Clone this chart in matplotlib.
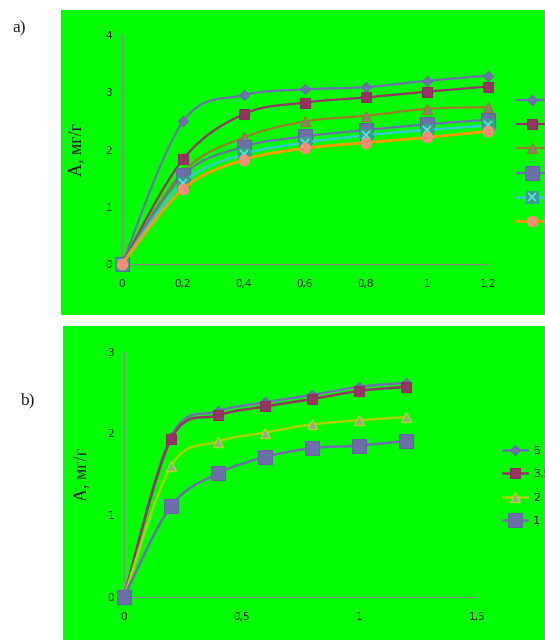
import numpy as np
import matplotlib
matplotlib.use("Agg")
import matplotlib.pyplot as plt
from matplotlib.path import Path
from matplotlib.patches import PathPatch, Rectangle
from matplotlib.lines import Line2D
from matplotlib.legend_handler import HandlerTuple

# ---------------- data ----------------
x_top = [0, 0.2, 0.4, 0.6, 0.8, 1.0, 1.2]
top_s1 = [0, 2.49, 2.95, 3.05, 3.09, 3.20, 3.29]
top_s2 = [0, 1.83, 2.62, 2.82, 2.91, 3.01, 3.10]
top_s3 = [0, 1.61, 2.21, 2.49, 2.59, 2.71, 2.74]
top_s4 = [0, 1.55, 2.05, 2.23, 2.34, 2.44, 2.52]
top_s5 = [0, 1.42, 1.92, 2.12, 2.25, 2.34, 2.42]
top_s6 = [0, 1.31, 1.82, 2.02, 2.12, 2.21, 2.32]
top_labels = ["6", "5", "4", "3", "2", "1"]

x_bot = [0, 0.2, 0.4, 0.6, 0.8, 1.0, 1.2]
bot_5 = [0, 1.96, 2.27, 2.38, 2.47, 2.57, 2.62]
bot_35 = [0, 1.93, 2.22, 2.33, 2.42, 2.52, 2.57]
bot_2 = [0, 1.60, 1.90, 2.01, 2.11, 2.16, 2.20]
bot_1 = [0, 1.11, 1.51, 1.71, 1.82, 1.85, 1.91]
bot_labels = ["5", "3,5", "2", "1"]

top_xticks = [0, 0.2, 0.4, 0.6, 0.8, 1.0, 1.2]
top_xticklabels = ["0", "0,2", "0,4", "0,6", "0,8", "1", "1,2"]
top_yticks = [0, 1, 2, 3, 4]
bot_xticks = [0, 0.5, 1.0, 1.5]
bot_xticklabels = ["0", "0,5", "1", "1,5"]
bot_yticks = [0, 1, 2, 3]
ylabel = "А, мг/г"

# ---------------- helpers ----------------
GREEN = "#00FF00"
AXC = "#8A8A8A"
TXT = "#1A1A1A"


def smooth_path(x, y):
    pts = np.column_stack([x, y]).astype(float)
    n = len(pts)
    verts = [pts[0]]
    codes = [Path.MOVETO]
    for i in range(n - 1):
        p0 = pts[max(i - 1, 0)]
        p1 = pts[i]
        p2 = pts[i + 1]
        p3 = pts[min(i + 2, n - 1)]
        c1 = p1 + (p2 - p0) / 6.0
        c2 = p2 - (p3 - p1) / 6.0
        verts += [c1, c2, p2]
        codes += [Path.CURVE4] * 3
    return Path(verts, codes)


def draw_series(ax, x, y, lc, lw, mk, z, cross=None):
    ax.add_patch(PathPatch(smooth_path(x, y), fill=False, edgecolor=lc,
                           linewidth=lw, zorder=z, clip_on=False,
                           capstyle="round", joinstyle="round"))
    ax.plot(x, y, linestyle="none", zorder=z + 0.5, clip_on=False, **mk)
    h = Line2D([], [], color=lc, linewidth=lw, **mk)
    if cross is not None:
        ax.plot(x, y, linestyle="none", zorder=z + 0.6, clip_on=False, **cross)
        h2 = Line2D([], [], linestyle="none", **cross)
        return (h, h2)
    return h


def style_axes(ax, xlim, ylim, xticks, xticklabels, yticks):
    ax.set_facecolor("none")
    ax.set_xlim(*xlim)
    ax.set_ylim(*ylim)
    for s in ["top", "right"]:
        ax.spines[s].set_visible(False)
    for s in ["left", "bottom"]:
        ax.spines[s].set_color(AXC)
        ax.spines[s].set_linewidth(0.9)
    ax.set_xticks(xticks)
    ax.set_xticklabels(xticklabels)
    ax.set_yticks(yticks)
    ax.set_yticklabels([str(v) for v in yticks])
    ax.tick_params(axis="both", length=0, labelsize=7.5, colors=TXT)
    ax.tick_params(axis="x", pad=11)
    ax.tick_params(axis="y", pad=7)
    ax.set_ylabel(ylabel, family="Liberation Serif", fontsize=13, color=TXT)


fig = plt.figure(figsize=(5.45, 6.4), dpi=100)
fig.patch.set_facecolor("white")

fig.add_artist(Rectangle((61 / 545, 1 - 315 / 640), 484 / 545, 305 / 640,
                         transform=fig.transFigure, facecolor=GREEN,
                         edgecolor="none", zorder=-10))
fig.add_artist(Rectangle((63 / 545, 0), 482 / 545, 314 / 640,
                         transform=fig.transFigure, facecolor=GREEN,
                         edgecolor="none", zorder=-10))

# ---------------- top panel ----------------
ax1 = fig.add_axes([122 / 545, 1 - 264 / 640, 366 / 545, 229 / 640])
style_axes(ax1, (0, 1.2), (0, 4), top_xticks, top_xticklabels, top_yticks)
ax1.yaxis.set_label_coords(-0.101, 0.5)

h = []
h.append(draw_series(ax1, x_top, top_s1, "#7070AE", 1.6,
                     dict(marker="D", markersize=5.5, markerfacecolor="#7070AE",
                          markeredgecolor="#6A6AA6", markeredgewidth=0.8), 3))
h.append(draw_series(ax1, x_top, top_s2, "#993366", 1.6,
                     dict(marker="s", markersize=6.5, markerfacecolor="#993366",
                          markeredgecolor="#8E3060", markeredgewidth=0.8), 4))
h.append(draw_series(ax1, x_top, top_s3, "#9C7C2A", 1.6,
                     dict(marker="^", markersize=7.5, markerfacecolor="#84847A",
                          markeredgecolor="#9C7C2A", markeredgewidth=1.0), 5))
h.append(draw_series(ax1, x_top, top_s4, "#6E6EAA", 1.6,
                     dict(marker="s", markersize=9.5, markerfacecolor="#6E6EAA",
                          markeredgecolor="#6464A0", markeredgewidth=0.8), 6))
h.append(draw_series(ax1, x_top, top_s5, "#33CCCC", 1.8,
                     dict(marker="s", markersize=8, markerfacecolor="#3A9E90",
                          markeredgecolor="#3A9E90", markeredgewidth=0.8), 7,
                     cross=dict(marker="x", markersize=5.5, markeredgecolor="#66E0E0",
                                markeredgewidth=1.2)))
h.append(draw_series(ax1, x_top, top_s6, "#FF9900", 2.0,
                     dict(marker="o", markersize=7.5, markerfacecolor="#FF8A78",
                          markeredgecolor="#FF8A78", markeredgewidth=0.8), 8))

fig.legend(h, top_labels, loc="upper left",
           bbox_to_anchor=(517 / 545, 1 - 95.5 / 640),
           frameon=False, fontsize=8, borderpad=0, borderaxespad=0,
           handlelength=2.7, handletextpad=0.5, labelspacing=1.29,
           handler_map={tuple: HandlerTuple(ndivide=1, pad=0)})

fig.text(12 / 545, 1 - 28 / 640, "a)", family="Liberation Serif",
         fontsize=12.5, color=TXT, ha="left", va="center")

# ---------------- bottom panel ----------------
ax2 = fig.add_axes([124 / 545, 1 - 596.7 / 640, 353 / 545, 245 / 640])
style_axes(ax2, (0, 1.5), (0, 3), bot_xticks, bot_xticklabels, bot_yticks)
ax2.yaxis.set_label_coords(-0.096, 0.5)

g = []
g.append(draw_series(ax2, x_bot, bot_5, "#7070AE", 1.8,
                     dict(marker="D", markersize=5.0, markerfacecolor="#7070AE",
                          markeredgecolor="#6A6AA6", markeredgewidth=0.8), 3))
g.append(draw_series(ax2, x_bot, bot_35, "#993366", 1.8,
                     dict(marker="s", markersize=7, markerfacecolor="#993366",
                          markeredgecolor="#8E3060", markeredgewidth=0.8), 4))
g.append(draw_series(ax2, x_bot, bot_2, "#A8D400", 1.8,
                     dict(marker="^", markersize=7.5, markerfacecolor="#98A890",
                          markeredgecolor="#B0D820", markeredgewidth=1.0), 5))
g.append(draw_series(ax2, x_bot, bot_1, "#6E6EAA", 1.8,
                     dict(marker="s", markersize=10.5, markerfacecolor="#6E6EAA",
                          markeredgecolor="#6464A0", markeredgewidth=0.8), 6))

fig.legend(g, bot_labels, loc="upper left",
           bbox_to_anchor=(503 / 545, 1 - 445.5 / 640),
           frameon=False, fontsize=8, borderpad=0, borderaxespad=0,
           handlelength=2.2, handletextpad=0.5, labelspacing=1.22)

fig.text(20 / 545, 1 - 400 / 640, "b)", family="Liberation Serif",
         fontsize=12.5, color=TXT, ha="left", va="center")

fig.savefig("out.png", dpi=100)
